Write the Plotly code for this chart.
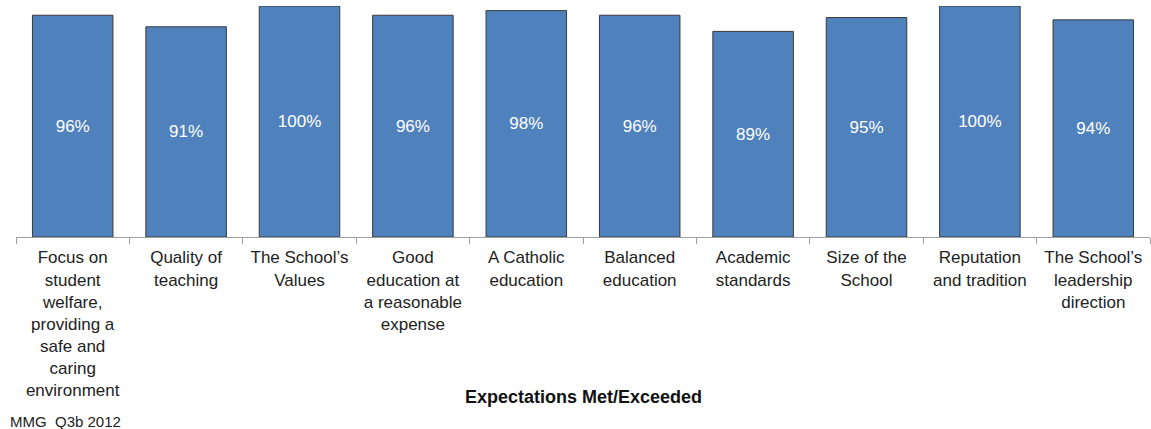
import plotly.graph_objects as go

categories = [
    "Focus on<br>student<br>welfare,<br>providing a<br>safe and<br>caring<br>environment",
    "Quality of<br>teaching",
    "The School’s<br>Values",
    "Good<br>education at<br>a reasonable<br>expense",
    "A Catholic<br>education",
    "Balanced<br>education",
    "Academic<br>standards",
    "Size of the<br>School",
    "Reputation<br>and tradition",
    "The School’s<br>leadership<br>direction",
]
values = [96, 91, 100, 96, 98, 96, 89, 95, 100, 94]
value_labels = [f"{v}%" for v in values]

W, H = 1151, 429
ML, MR, MT, MB = 16, 1, 6, 192

fig = go.Figure(
    go.Bar(
        x=categories,
        y=values,
        text=value_labels,
        textposition="inside",
        insidetextanchor="middle",
        textfont=dict(color="white", size=17, family="Liberation Sans, Arial, sans-serif"),
        marker=dict(color="#4F81BD", line=dict(color="#3a3a3a", width=1)),
        width=0.71,
        hoverinfo="skip",
    )
)

plot_h = H - MT - MB
plot_w = W - ML - MR

fig.update_layout(
    width=W,
    height=H,
    margin=dict(l=ML, r=MR, t=MT, b=MB),
    paper_bgcolor="white",
    plot_bgcolor="white",
    showlegend=False,
    font=dict(family="Liberation Sans, Arial, sans-serif", size=17, color="#222222"),
    xaxis=dict(
        type="category",
        showline=True,
        linecolor="#a0a0a0",
        linewidth=1,
        ticks="outside",
        tickson="boundaries",
        ticklen=6,
        tickcolor="#a0a0a0",
        ticklabelstandoff=5,
        tickfont=dict(size=17, color="#222222"),
        showgrid=False,
        automargin=False,
    ),
    yaxis=dict(
        range=[0, 100],
        visible=False,
        showgrid=False,
        zeroline=False,
    ),
    annotations=[
        dict(
            text="<b>Expectations Met/Exceeded</b>",
            x=0.5, xref="paper",
            y=(H - MB - 397) / plot_h, yref="paper", yanchor="middle",
            showarrow=False,
            font=dict(size=18, color="#111111"),
        ),
        dict(
            text="MMG  Q3b 2012",
            x=(8 - ML) / plot_w, xref="paper", xanchor="left",
            y=(H - MB - 421) / plot_h, yref="paper", yanchor="middle",
            showarrow=False,
            font=dict(size=15, color="#222222"),
        ),
    ],
)

fig.write_html(
    "out.html",
    config={"displayModeBar": False},
    post_script="document.body.style.margin='0';document.body.style.overflow='hidden';",
)
